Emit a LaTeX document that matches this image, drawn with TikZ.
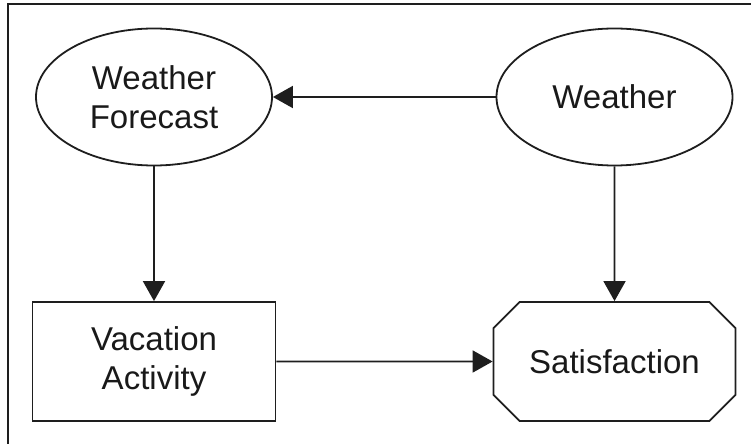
\documentclass[tikz,border=0pt]{standalone}
\usepackage{fontspec}
\setmainfont{Liberation Sans}
\definecolor{LineColor}{RGB}{30,30,30}
\definecolor{TextColor}{RGB}{25,25,25}
\usetikzlibrary{positioning, arrows.meta, shapes.geometric, shapes.misc}

\begin{document}
\begin{tikzpicture}[x=0.5pt, y=-0.5pt,
    every node/.style={text=TextColor, font=\fontsize{16.5}{19.5}\selectfont, align=center},
    chance/.style={ellipse, draw=LineColor, line width=0.9pt, minimum width=118pt, minimum height=68.5pt, inner sep=0pt},
    decision/.style={rectangle, draw=LineColor, line width=0.9pt, minimum width=121.5pt, minimum height=59.5pt, inner sep=0pt},
    utility/.style={chamfered rectangle, chamfered rectangle xsep=7pt, chamfered rectangle ysep=7pt, draw=LineColor, line width=0.9pt, minimum width=121pt, minimum height=59.5pt, inner sep=0pt},
    link/.style={line width=0.9pt, draw=LineColor, -{Triangle[length=10pt, width=11pt]}}]
  \useasboundingbox (0,0) rectangle (751,444);
  % frame (top and left only)
  \draw[line width=0.9pt, LineColor] (751,4) -- (8,4) -- (8,444);
  % nodes
  \node[chance] (forecast) at (154,97) {Weather\\Forecast};
  \node[chance] (weather) at (614.5,97) {Weather};
  \node[decision] (activity) at (154,361.5) {Vacation\\Activity};
  \node[utility] (satisfaction) at (614.5,361.5) {Satisfaction};
  % links
  \draw[link] (weather) -- (forecast);
  \draw[link] (forecast) -- (activity);
  \draw[link] (weather) -- (satisfaction);
  \draw[link] (activity) -- (satisfaction);
\end{tikzpicture}
\end{document}
